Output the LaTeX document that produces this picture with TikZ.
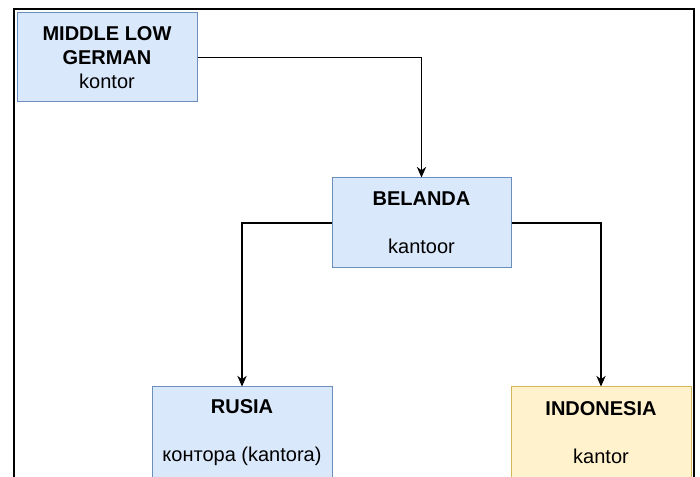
\documentclass[tikz,border=0pt]{standalone}
\usepackage{fontspec}
\setsansfont{Liberation Sans}
\usetikzlibrary{arrows.meta}
\definecolor{bluefill}{HTML}{DAE8FC}
\definecolor{bluedraw}{HTML}{6C8EBF}
\definecolor{yellowfill}{HTML}{FFF2CC}
\definecolor{yellowdraw}{HTML}{D6B656}
\tikzset{
  word/.style={rectangle,draw,line width=0.75pt,align=center,inner sep=0pt,
    font=\sffamily\fontsize{15}{18}\selectfont},
  blue/.style={word,fill=bluefill,draw=bluedraw},
  yellow/.style={word,fill=yellowfill,draw=yellowdraw},
  link/.style={->,line width=0.9pt}
}
\begin{document}
\begin{tikzpicture}[x=0.75pt,y=-0.75pt,>={Stealth[length=8pt,width=7pt]}]
    \clip (0,0) rectangle (700,477);
    \fill [white] (0,0) rectangle (700,477);
    \draw [line width=1.5pt] (14,480) -- (14,9) -- (694,9) -- (694,480);
    \node [blue,minimum width=135pt,minimum height=66.75pt] (mlg) at (107,57.5)
        {\textbf{MIDDLE LOW}\\\textbf{GERMAN}\\kontor};
    \node [blue,minimum width=134.25pt,minimum height=67.5pt] (belanda) at (421.5,223)
        {\textbf{BELANDA}\\[18pt]kantoor};
    \node [blue,minimum width=135pt,minimum height=69pt] (rusia) at (242,433)
        {\textbf{RUSIA}\\[18pt]контора (kantora)};
    \node [yellow,minimum width=135pt,minimum height=69pt] (indo) at (601,433)
        {\textbf{INDONESIA}\\[18pt]kantor};
    \draw [link] (mlg.east) -| (belanda.north);
    \draw [link] (belanda.west) -| (rusia.north);
    \draw [link] (belanda.east) -| (indo.north);
\end{tikzpicture}
\end{document}
